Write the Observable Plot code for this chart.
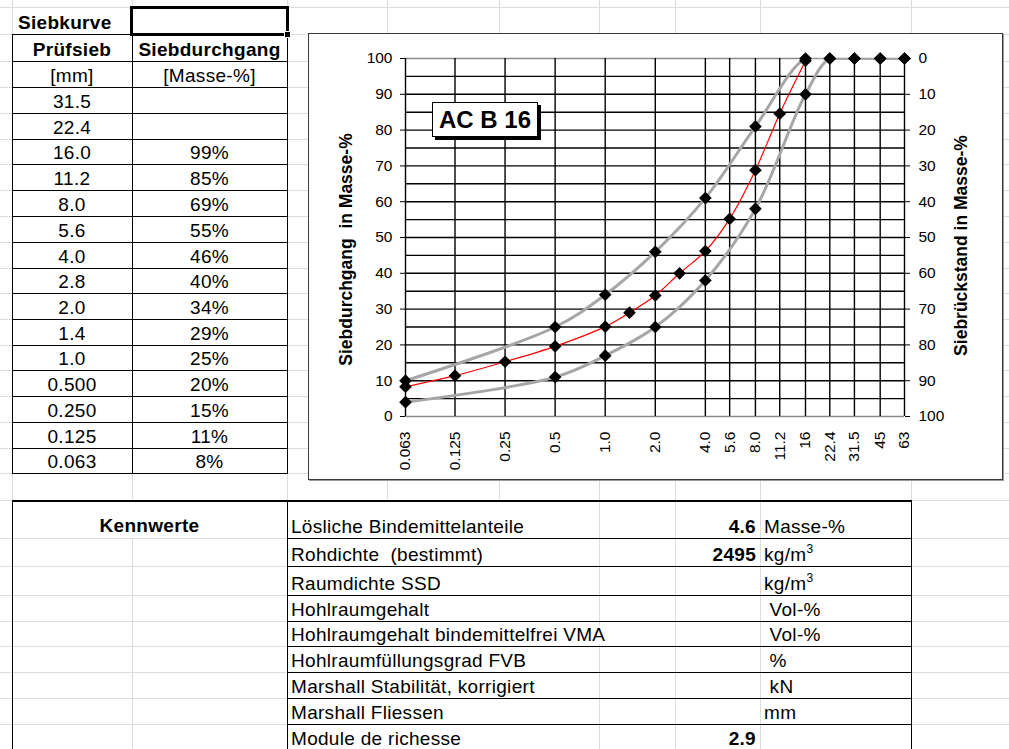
<!DOCTYPE html>
<html><head><meta charset="utf-8">
<script src="https://cdn.jsdelivr.net/npm/d3@7"></script>
<script src="https://cdn.jsdelivr.net/npm/@observablehq/plot@0.6"></script>
<style>
html,body{margin:0;padding:0;background:#fff;}
#sheet{position:relative;width:1009px;height:749px;overflow:hidden;font-family:"Liberation Sans",Arial,sans-serif;color:#000;background:#fff;}
.t{position:absolute;white-space:pre;font-size:19px;line-height:19px;height:19px;letter-spacing:0.3px;}
.b{font-weight:bold;}
</style></head><body><div id="sheet"></div>
<script>
// ---- chart data ----
const sieveTicks = [0.063, 0.125, 0.25, 0.5, 1.0, 2.0, 4.0, 5.6, 8.0, 11.2, 16, 22.4, 31.5, 45, 63];
const sieveTickLabels = ["0.063","0.125","0.25","0.5","1.0","2.0","4.0","5.6","8.0","11.2","16","22.4","31.5","45","63"];
const yTicks = [0,10,20,30,40,50,60,70,80,90,100];
const yGrid = [0,5,10,15,20,25,30,35,40,45,50,55,60,65,70,75,80,85,90,95,100];

const sampleSieves = [0.063, 0.125, 0.25, 0.5, 1.0, 1.4, 2.0, 2.8, 4.0, 5.6, 8.0, 11.2, 16];
const samplePassing = [8.3, 11.4, 15.3, 19.6, 25.1, 29.0, 33.8, 40.0, 46.2, 55.2, 68.8, 84.6, 99.4];
const upperSieves = [0.063, 0.5, 1.0, 2.0, 4.0, 8.0, 16, 22.4, 31.5, 45, 63];
const upperPassing = [10, 25, 34, 46, 61, 81, 100, 100, 100, 100, 100];
const lowerSieves = [0.063, 0.5, 1.0, 2.0, 4.0, 8.0, 16, 22.4, 31.5, 45, 63];
const lowerPassing = [4, 11, 17, 25, 38, 58, 90, 100, 100, 100, 100];

const chartLabel = "AC B 16";
const leftTitle = "Siebdurchgang \u00a0in Masse-%";
const rightTitle = "Siebrückstand in Masse-%";

// ---- table data ----
const tableSieves = [31.5, 22.4, 16.0, 11.2, 8.0, 5.6, 4.0, 2.8, 2.0, 1.4, 1.0, 0.5, 0.25, 0.125, 0.063];
const kennLabels = ["Lösliche Bindemittelanteile", "Rohdichte  (bestimmt)", "Raumdichte SSD", "Hohlraumgehalt",
  "Hohlraumgehalt bindemittelfrei VMA", "Hohlraumfüllungsgrad FVB", "Marshall Stabilität, korrigiert",
  "Marshall Fliessen", "Module de richesse"];
const kennValues = ["4.6", "2495", "", "", "", "", "", "", "2.9"];
const kennUnits = ["Masse-%", "kg/m3", "kg/m3", " Vol-%", " Vol-%", " %", " kN", "mm", ""];

// ---- sheet layout ----
const colLines = [12, 132, 287, 387, 499, 599, 675, 760, 911];
const topRows = [7,34,61,87,113,139,164,190,216,242,268,293,319,345,370,396,422,448,473];
const botRows = [500,538,566,595,621,646,672,698,724,750];

const sheet = document.getElementById("sheet");
function box(x, y, w, h, bg, extra) {
  const d = document.createElement("div");
  d.style.cssText = `position:absolute;left:${x}px;top:${y}px;width:${w}px;height:${h}px;background:${bg};${extra||""}`;
  sheet.appendChild(d); return d;
}
function put(html, baseline, opt) {
  const d = document.createElement("div");
  d.className = "t" + (opt.bold ? " b" : "");
  d.innerHTML = html;
  let css = `top:${baseline - 16}px;`;
  if (opt.center) css += `left:${opt.center[0]}px;width:${opt.center[1]-opt.center[0]}px;text-align:center;`;
  else if (opt.right != null) css += `left:${opt.right - 300}px;width:300px;text-align:right;`;
  else css += `left:${opt.left}px;`;
  if (opt.bg) css += `background:${opt.bg};`;
  d.style.cssText += css;
  sheet.appendChild(d); return d;
}
const GL = "#dadcdd";
// gridlines
colLines.forEach(x => box(x, 0, 1, 749, GL));
[...topRows, 500, ...botRows.slice(1, -1)].forEach(y => box(0, y, 1009, 1, GL));
// white areas hiding gridlines
box(288, 501, 311, 248, "#fff");
box(13, 502, 274, 36, "#fff");
// left table borders
topRows.slice(1).forEach(y => box(12, y, 276, 1, "#000"));
[12, 132, 287].forEach(x => box(x, 34, 1, 440, "#000"));
// bottom table borders
box(12, 500, 900, 2, "#000");
[12, 287, 911].forEach(x => box(x, 500, 1, 249, "#000"));
botRows.slice(1, -1).forEach(y => box(287, y, 625, 1, "#000"));
// selection
box(130, 6, 159, 30, "transparent", "box-sizing:border-box;border:3px solid #000;");
box(284, 31, 7, 7, "#000", "box-sizing:border-box;border:1px solid #fff;");

// left table texts
put("Siebkurve", 29, {left: 18, bold: true});
put("Prüfsieb", 56, {center: [12, 132], bold: true});
put("Siebdurchgang", 56, {center: [132, 287], bold: true});
put("[mm]", 82, {center: [12, 132]});
put("[Masse-%]", 82, {center: [132, 287]});
const fmtSieve = v => v >= 1 ? v.toFixed(1) : v.toFixed(3);
tableSieves.forEach((s, i) => {
  const bottom = topRows[i + 4];
  put(fmtSieve(s), bottom - 5, {center: [12, 132]});
  const k = sampleSieves.indexOf(s);
  if (k >= 0) put(Math.round(samplePassing[k]) + "%", bottom - 5, {center: [132, 287]});
});

// bottom table texts
put("Kennwerte", 532, {center: [12, 287], bold: true});
const sup = u => u.replace("m3", 'm<span style="font-size:12px;position:relative;top:-8px">3</span>');
kennLabels.forEach((lab, i) => {
  const bl = botRows[i + 1] - 5.5;
  put(lab, bl, {left: 291, bg: "#fff"});
  if (kennValues[i]) put(kennValues[i], bl, {right: 756, bold: true});
  if (kennUnits[i]) put(sup(kennUnits[i]), bl, {left: 764});
});

// chart
const wrap = box(308, 33, 695, 447, "#fff", "box-sizing:border-box;border:1px solid #3a3a3a;box-shadow:1px 1px 0 #9a9a9a;");
const rows = (xs, ys) => xs.map((x, i) => ({x, y: ys[i]}));
const sampleRows = rows(sampleSieves, samplePassing);
const upperRows = rows(upperSieves, upperPassing);
const lowerRows = rows(lowerSieves, lowerPassing);
const labelMap = new Map(sieveTicks.map((t, i) => [t, sieveTickLabels[i]]));

const chart = Plot.plot({
  width: 693, height: 445,
  marginLeft: 96, marginRight: 98, marginTop: 24, marginBottom: 63,
  x: {type: "log", domain: [0.063, 63], label: null},
  y: {domain: [0, 100], label: null},
  style: {fontFamily: '"Liberation Sans", Arial, sans-serif', fontSize: "15.5px", color: "#000", background: "#fff", overflow: "visible"},
  marks: [
    Plot.ruleY(yGrid.filter(d => d > 0 && d < 100), {stroke: "#000", strokeWidth: 1.4}),
    Plot.ruleY(yGrid.filter(d => d === 0 || d === 100), {stroke: "#8c8c8c", strokeWidth: 1.6}),
    Plot.ruleX(sieveTicks, {stroke: "#000", strokeWidth: 1.4}),
    Plot.line(upperRows, {x: "x", y: "y", stroke: "#a6a6a6", strokeWidth: 3, curve: "catmull-rom", clip: true}),
    Plot.line(lowerRows, {x: "x", y: "y", stroke: "#a6a6a6", strokeWidth: 3, curve: "catmull-rom", clip: true}),
    Plot.line(sampleRows, {x: "x", y: "y", stroke: "#ff0000", strokeWidth: 1.2, curve: "catmull-rom"}),
    Plot.dot([...upperRows, ...lowerRows, ...sampleRows], {x: "x", y: "y", symbol: "diamond2", r: 5.7, fill: "#000", stroke: "none"}),
    Plot.axisY({anchor: "left", ticks: yTicks, tickSize: 5, tickPadding: 8}),
    Plot.axisY({anchor: "right", ticks: yTicks, tickSize: 5, tickPadding: 9, tickFormat: d => String(100 - d)}),
    Plot.axisX({ticks: sieveTicks, text: d => labelMap.get(d), tickRotate: -90, tickSize: 0, tickPadding: 15}),
    Plot.text([leftTitle], {text: d => d, frameAnchor: "left", textAnchor: "middle", rotate: -90, dx: -59, dy: 12, fontWeight: "bold", fontSize: 17.5}),
    Plot.text([rightTitle], {text: d => d, frameAnchor: "right", textAnchor: "middle", rotate: -90, dx: 57, dy: 8, fontWeight: "bold", fontSize: 17.5})
  ]
});
chart.style.display = "block";
wrap.appendChild(chart);

// chart label box
const lb = box(432, 102, 106, 35, "#fff", "box-sizing:border-box;border:1px solid #000;box-shadow:3px 3px 0 #000;font-weight:bold;font-size:24px;line-height:33px;text-align:center;white-space:pre;");
lb.textContent = chartLabel;
</script></body></html>
